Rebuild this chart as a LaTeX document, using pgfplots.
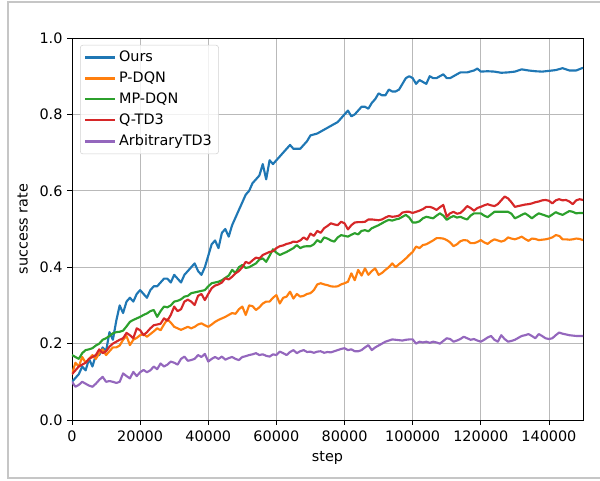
\documentclass[border=0pt]{standalone}
\usepackage{fontspec}
\setmainfont{DejaVu Sans}
\usepackage{pgfplots}
\pgfplotsset{compat=1.18}
\definecolor{cblue}{HTML}{1F77B4}
\definecolor{corange}{HTML}{FF7F0E}
\definecolor{cgreen}{HTML}{2CA02C}
\definecolor{cred}{HTML}{D62728}
\definecolor{cpurple}{HTML}{9467BD}
\begin{document}
\begin{tikzpicture}[x=1pt,y=1pt]
\useasboundingbox (-54,-45) rectangle (396,315);
\draw[line width=0.8pt, color=gray!45] (396,-43.5) -- (-48,-43.5) -- (-48,313.5) -- (396,313.5);
\begin{axis}[
  at={(0,0)}, anchor=south west, scale only axis,
  width=383.25pt, height=286.5pt,
  xmin=0, xmax=150000, ymin=0, ymax=1,
  xtick={0,20000,40000,60000,80000,100000,120000,140000},
  xticklabels={0,20000,40000,60000,80000,100000,120000,140000},
  ytick={0,0.2,0.4,0.6,0.8,1.0},
  yticklabels={0.0,0.2,0.4,0.6,0.8,1.0},
  scaled x ticks=false,
  tick align=outside, tick pos=left, major tick length=3.6pt,
  tick style={black, line width=0.6pt},
  grid=major, grid style={color=gray!55, line width=0.6pt},
  axis line style={line width=0.6pt},
  ticklabel style={font=\fontsize{10.8}{13}\selectfont},
  xticklabel style={yshift=-1pt},
  label style={font=\fontsize{10.8}{13}\selectfont},
  xlabel={step}, ylabel={success rate},
  ylabel style={yshift=2pt},
  legend cell align=left,
  legend style={at={(0.0157,0.982)}, anchor=north west, draw=gray!35, rounded corners=2pt,
    fill=white, fill opacity=0.8, text opacity=1, font=\fontsize{10.8}{13}\selectfont,
    inner xsep=3pt, inner ysep=2.5pt, row sep=2.2pt},
  legend image code/.code={\draw[#1] (0pt,0pt) -- (22.5pt,0pt);},
  every axis plot/.append style={line width=1.6pt, line join=round},
]
\addplot[cblue] table {
0 0.10
1000 0.11
2000 0.12
3000 0.14
4000 0.13
5000 0.16
6000 0.14
7000 0.17
8000 0.17
9000 0.19
10000 0.18
11000 0.23
12000 0.21
13000 0.26
14000 0.30
15000 0.28
16000 0.31
17000 0.32
18000 0.31
19000 0.33
20000 0.34
21000 0.33
22000 0.32
23000 0.34
24000 0.35
25000 0.35
26000 0.36
27000 0.37
28000 0.37
29000 0.36
30000 0.38
31000 0.37
32000 0.36
33000 0.38
34000 0.39
35000 0.40
36000 0.41
37000 0.39
38000 0.38
39000 0.40
40000 0.43
41000 0.46
42000 0.47
43000 0.45
44000 0.49
45000 0.50
46000 0.48
47000 0.51
48000 0.53
49000 0.55
50000 0.57
51000 0.59
52000 0.60
53000 0.62
54000 0.63
55000 0.64
56000 0.67
57000 0.63
58000 0.68
59000 0.67
60000 0.68
61000 0.69
62000 0.70
63000 0.71
64000 0.72
65000 0.71
66000 0.71
67000 0.71
68000 0.72
69000 0.73
70000 0.745
72000 0.75
74000 0.76
76000 0.77
78000 0.78
79000 0.79
80000 0.80
81000 0.81
82000 0.795
83000 0.80
84000 0.81
85000 0.82
86000 0.82
87000 0.815
88000 0.83
89000 0.84
90000 0.855
91000 0.85
92000 0.85
93000 0.865
94000 0.86
95000 0.86
96000 0.865
97000 0.88
98000 0.895
99000 0.90
100000 0.895
101000 0.88
102000 0.89
103000 0.885
104000 0.88
105000 0.90
106000 0.895
107000 0.895
108000 0.90
109000 0.905
110000 0.895
111000 0.895
112000 0.90
113000 0.905
114000 0.91
116000 0.91
118000 0.915
119000 0.92
120000 0.912
122000 0.913
124000 0.912
126000 0.909
128000 0.91
130000 0.912
132000 0.918
134000 0.915
136000 0.913
138000 0.912
140000 0.914
142000 0.916
144000 0.921
146000 0.915
148000 0.915
150000 0.922
};
\addlegendentry{Ours}
\addplot[corange] table {
0 0.12
1000 0.15
2000 0.14
3000 0.165
4000 0.15
5000 0.16
6000 0.17
7000 0.16
8000 0.175
9000 0.185
10000 0.17
11000 0.18
12000 0.19
13000 0.19
14000 0.195
15000 0.21
16000 0.22
17000 0.196
18000 0.21
19000 0.215
20000 0.222
21000 0.225
22000 0.218
23000 0.225
24000 0.232
25000 0.24
26000 0.235
27000 0.25
28000 0.264
29000 0.255
30000 0.244
31000 0.24
32000 0.236
33000 0.24
34000 0.244
35000 0.24
36000 0.244
37000 0.25
38000 0.253
39000 0.248
40000 0.244
41000 0.25
42000 0.257
43000 0.262
44000 0.266
45000 0.27
46000 0.275
47000 0.28
48000 0.278
49000 0.29
50000 0.297
51000 0.275
52000 0.30
53000 0.298
54000 0.288
55000 0.295
56000 0.305
57000 0.31
58000 0.31
59000 0.32
60000 0.327
61000 0.305
62000 0.32
63000 0.323
64000 0.336
65000 0.318
66000 0.33
67000 0.323
68000 0.325
69000 0.33
70000 0.332
71000 0.34
72000 0.355
73000 0.358
74000 0.355
75000 0.353
76000 0.35
77000 0.349
78000 0.35
79000 0.355
80000 0.358
81000 0.362
82000 0.384
83000 0.366
84000 0.393
85000 0.378
86000 0.397
87000 0.38
88000 0.39
89000 0.397
90000 0.38
91000 0.385
92000 0.393
93000 0.40
94000 0.41
95000 0.40
96000 0.408
97000 0.415
98000 0.423
99000 0.432
100000 0.44
101000 0.454
102000 0.45
103000 0.458
104000 0.46
105000 0.465
106000 0.47
107000 0.476
108000 0.476
109000 0.475
110000 0.471
111000 0.465
112000 0.455
113000 0.46
114000 0.468
115000 0.471
116000 0.47
117000 0.463
118000 0.463
119000 0.466
120000 0.471
121000 0.465
122000 0.461
123000 0.468
124000 0.473
125000 0.47
126000 0.467
127000 0.47
128000 0.478
129000 0.475
130000 0.473
131000 0.476
132000 0.48
133000 0.474
134000 0.469
135000 0.475
136000 0.474
137000 0.471
138000 0.472
139000 0.473
140000 0.475
141000 0.478
142000 0.484
143000 0.482
144000 0.473
145000 0.473
146000 0.472
147000 0.473
148000 0.475
149000 0.474
150000 0.471
};
\addlegendentry{P-DQN}
\addplot[cgreen] table {
0 0.17
1000 0.165
2000 0.16
3000 0.175
4000 0.183
5000 0.185
6000 0.188
7000 0.195
8000 0.20
9000 0.21
10000 0.214
11000 0.22
12000 0.227
13000 0.23
14000 0.231
15000 0.234
16000 0.245
17000 0.257
18000 0.262
19000 0.266
20000 0.27
21000 0.275
22000 0.279
23000 0.285
24000 0.288
25000 0.27
26000 0.285
27000 0.297
28000 0.295
29000 0.30
30000 0.31
31000 0.312
32000 0.316
33000 0.323
34000 0.325
35000 0.332
36000 0.334
37000 0.336
38000 0.338
39000 0.34
40000 0.35
41000 0.358
42000 0.36
43000 0.362
44000 0.366
45000 0.372
46000 0.378
47000 0.393
48000 0.385
49000 0.40
50000 0.406
51000 0.398
52000 0.40
53000 0.405
54000 0.41
55000 0.42
56000 0.423
57000 0.414
58000 0.43
59000 0.447
60000 0.438
61000 0.432
62000 0.436
63000 0.44
64000 0.445
65000 0.45
66000 0.458
67000 0.45
68000 0.454
69000 0.455
70000 0.455
71000 0.46
72000 0.471
73000 0.465
74000 0.478
75000 0.475
76000 0.47
77000 0.467
78000 0.478
79000 0.484
80000 0.482
81000 0.48
82000 0.485
83000 0.489
84000 0.486
85000 0.495
86000 0.497
87000 0.494
88000 0.502
89000 0.506
90000 0.51
91000 0.515
92000 0.52
93000 0.524
94000 0.522
95000 0.525
96000 0.527
97000 0.532
98000 0.537
99000 0.53
100000 0.517
101000 0.517
102000 0.52
103000 0.528
104000 0.532
105000 0.53
106000 0.528
107000 0.535
108000 0.541
109000 0.535
110000 0.524
111000 0.53
112000 0.534
113000 0.53
114000 0.532
115000 0.528
116000 0.525
117000 0.535
118000 0.541
119000 0.541
120000 0.541
121000 0.535
122000 0.531
123000 0.538
124000 0.545
126000 0.545
128000 0.545
129000 0.54
130000 0.528
131000 0.532
132000 0.537
133000 0.541
134000 0.535
135000 0.528
136000 0.535
137000 0.541
138000 0.538
139000 0.535
140000 0.532
141000 0.538
142000 0.544
143000 0.54
144000 0.537
145000 0.542
146000 0.547
147000 0.545
148000 0.541
149000 0.542
150000 0.542
};
\addlegendentry{MP-DQN}
\addplot[cred] table {
0 0.12
1000 0.13
2000 0.14
3000 0.145
4000 0.15
5000 0.16
6000 0.165
7000 0.17
8000 0.185
9000 0.175
10000 0.18
11000 0.192
12000 0.20
13000 0.205
14000 0.21
15000 0.214
16000 0.228
17000 0.222
18000 0.214
19000 0.24
20000 0.235
21000 0.222
22000 0.23
23000 0.24
24000 0.248
25000 0.25
26000 0.252
27000 0.266
28000 0.26
29000 0.275
30000 0.297
31000 0.285
32000 0.29
33000 0.31
34000 0.315
35000 0.31
36000 0.301
37000 0.325
38000 0.33
39000 0.314
40000 0.33
41000 0.345
42000 0.352
43000 0.355
44000 0.36
45000 0.371
46000 0.368
47000 0.375
48000 0.384
49000 0.39
50000 0.40
51000 0.414
52000 0.41
53000 0.418
54000 0.425
55000 0.423
56000 0.432
57000 0.436
58000 0.44
59000 0.442
60000 0.45
61000 0.455
62000 0.457
63000 0.461
64000 0.463
65000 0.467
66000 0.466
67000 0.47
68000 0.478
69000 0.472
70000 0.488
71000 0.482
72000 0.495
73000 0.49
74000 0.502
75000 0.508
76000 0.515
77000 0.512
78000 0.51
79000 0.519
80000 0.515
81000 0.499
82000 0.51
83000 0.517
84000 0.518
85000 0.518
86000 0.519
87000 0.525
88000 0.525
89000 0.524
90000 0.523
91000 0.525
92000 0.53
93000 0.534
94000 0.532
95000 0.533
96000 0.535
97000 0.543
98000 0.545
99000 0.545
100000 0.542
101000 0.545
102000 0.548
103000 0.552
104000 0.558
105000 0.558
106000 0.555
107000 0.55
108000 0.557
109000 0.563
110000 0.532
111000 0.541
112000 0.545
113000 0.54
114000 0.542
115000 0.55
116000 0.56
117000 0.555
118000 0.548
119000 0.555
120000 0.558
121000 0.562
122000 0.565
123000 0.562
124000 0.56
125000 0.565
126000 0.575
127000 0.585
128000 0.58
129000 0.57
130000 0.558
131000 0.56
132000 0.562
133000 0.564
134000 0.565
135000 0.567
136000 0.57
137000 0.572
138000 0.575
139000 0.576
140000 0.574
141000 0.567
142000 0.575
143000 0.578
144000 0.575
145000 0.576
146000 0.572
147000 0.565
148000 0.575
149000 0.578
150000 0.576
};
\addlegendentry{Q-TD3}
\addplot[cpurple] table {
0 0.10
1000 0.087
2000 0.092
3000 0.10
4000 0.095
5000 0.09
6000 0.087
7000 0.095
8000 0.105
9000 0.113
10000 0.10
11000 0.102
12000 0.10
13000 0.097
14000 0.10
15000 0.122
16000 0.115
17000 0.109
18000 0.126
19000 0.115
20000 0.125
21000 0.131
22000 0.125
23000 0.13
24000 0.14
25000 0.133
26000 0.148
27000 0.14
28000 0.145
29000 0.153
30000 0.15
31000 0.145
32000 0.16
33000 0.166
34000 0.155
35000 0.157
36000 0.16
37000 0.17
38000 0.165
39000 0.173
40000 0.153
41000 0.16
42000 0.165
43000 0.16
44000 0.166
45000 0.158
46000 0.162
47000 0.165
48000 0.16
49000 0.157
50000 0.165
51000 0.167
52000 0.17
53000 0.172
54000 0.175
55000 0.17
56000 0.172
57000 0.168
58000 0.166
59000 0.172
60000 0.17
61000 0.179
62000 0.175
63000 0.17
64000 0.178
65000 0.183
66000 0.175
67000 0.18
68000 0.183
69000 0.178
70000 0.179
71000 0.176
72000 0.179
73000 0.18
74000 0.176
75000 0.178
76000 0.177
77000 0.18
78000 0.183
79000 0.186
80000 0.188
81000 0.183
82000 0.185
83000 0.18
84000 0.18
85000 0.183
86000 0.19
87000 0.196
88000 0.183
89000 0.19
90000 0.195
91000 0.2
92000 0.205
93000 0.208
94000 0.211
95000 0.21
96000 0.209
97000 0.208
98000 0.21
99000 0.211
100000 0.211
101000 0.2
102000 0.205
103000 0.203
104000 0.205
105000 0.202
106000 0.205
107000 0.203
108000 0.2
109000 0.207
110000 0.214
111000 0.212
112000 0.205
113000 0.208
114000 0.212
115000 0.218
116000 0.214
117000 0.21
118000 0.212
119000 0.208
120000 0.205
121000 0.21
122000 0.216
123000 0.22
124000 0.21
125000 0.205
126000 0.222
127000 0.212
128000 0.205
129000 0.207
130000 0.21
131000 0.215
132000 0.22
133000 0.222
134000 0.225
135000 0.22
136000 0.214
137000 0.225
138000 0.22
139000 0.214
140000 0.212
141000 0.214
142000 0.222
143000 0.229
144000 0.226
145000 0.224
146000 0.222
147000 0.221
148000 0.22
149000 0.22
150000 0.22
};
\addlegendentry{ArbitraryTD3}
\end{axis}
\end{tikzpicture}
\end{document}
